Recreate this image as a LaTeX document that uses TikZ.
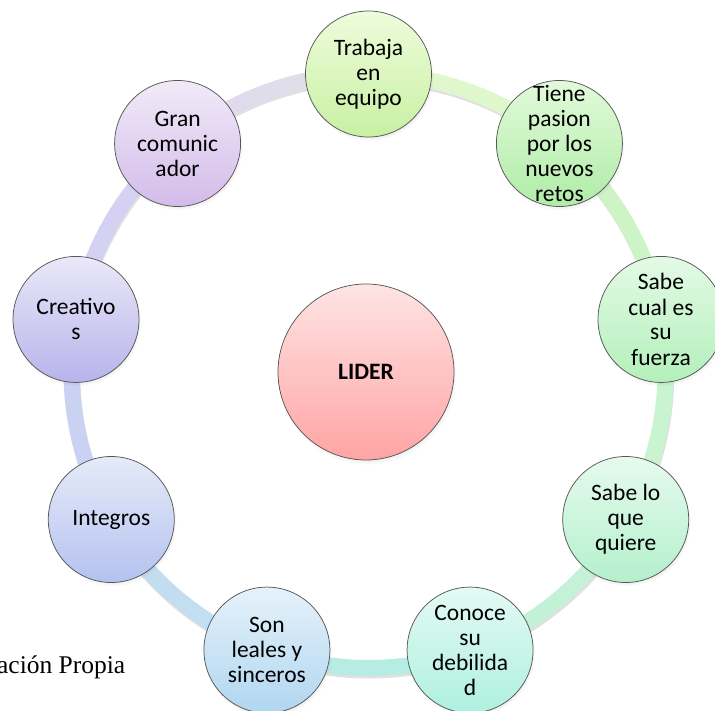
\documentclass[tikz,border=0pt]{standalone}
\usepackage{fontspec}
\setmainfont{Carlito}
\newfontfamily\capfont{Liberation Serif}
\usetikzlibrary{calc,shadows}

% node fills (top / bottom)
\definecolor{aT}{HTML}{EEFCDC}\definecolor{aB}{HTML}{C8F0A2}
\definecolor{bT}{HTML}{E2FADA}\definecolor{bB}{HTML}{B0ECA8}
\definecolor{cT}{HTML}{E4FAE6}\definecolor{cB}{HTML}{B2F0BA}
\definecolor{dT}{HTML}{E6FAEE}\definecolor{dB}{HTML}{B4F0CC}
\definecolor{eT}{HTML}{E4FAF4}\definecolor{eB}{HTML}{AEF0DE}
\definecolor{fT}{HTML}{E6F2FA}\definecolor{fB}{HTML}{B0D6F0}
\definecolor{gT}{HTML}{E6EAF8}\definecolor{gB}{HTML}{B4C2F0}
\definecolor{hT}{HTML}{EAE8F8}\definecolor{hB}{HTML}{B8B4EC}
\definecolor{iT}{HTML}{F2EAF8}\definecolor{iB}{HTML}{D2BCEA}
\definecolor{lT}{HTML}{FFE4E4}\definecolor{lB}{HTML}{FFA4A4}
% ring colours
\definecolor{r1}{HTML}{E4F8CE}
\definecolor{r2}{HTML}{CEF4C4}
\definecolor{r3}{HTML}{CBF4CE}
\definecolor{r4}{HTML}{C7F2D6}
\definecolor{r5}{HTML}{B4EFE0}
\definecolor{r6}{HTML}{C2E0F0}
\definecolor{r7}{HTML}{C8D2F2}
\definecolor{r8}{HTML}{D2D0F2}
\definecolor{r9}{HTML}{DED6F2}

\tikzset{
  outer/.style={circle, minimum size=126pt, inner sep=0pt,
    draw=black!66, line width=0.75pt,
    circular drop shadow={shadow scale=1.02, shadow xshift=1pt, shadow yshift=-2.5pt, opacity=0.3}},
  txt/.style={align=center, inner sep=0pt, font=\fontsize{23.5}{25}\selectfont},
  ringpart/.style={line width=16pt, line cap=butt},
}

\begin{document}
\begin{tikzpicture}[x=1pt,y=1pt]
\useasboundingbox (0,0) rectangle (715,-711);
\coordinate (C) at (368.5,-371);

% ring shadow
\draw[line width=16pt, black, opacity=0.12] ($(C)+(0.8,-2.5)$) circle[radius=297pt];

% ring, each part coloured from the node it leaves (clockwise)
\foreach \a/\ca/\cb in {90/r1/r2, 50/r2/r3, 10/r3/r4, -30/r4/r5, -70/r5/r6,
                        -110/r6/r7, -150/r7/r8, -190/r8/r9, -230/r9/r1}{
  \foreach \k in {0,...,19}{
    \pgfmathsetmacro{\s}{\a-2*\k}
    \pgfmathsetmacro{\e}{\a-2*\k-2.4}
    \pgfmathtruncatemacro{\p}{100-2*\k}
    \colorlet{tmpc}{\ca!\p!\cb}
    \draw[ringpart, tmpc] ($(C)+(\s:297)$) arc[start angle=\s, end angle=\e, radius=297pt];
  }
}

% outer nodes
\node[outer, top color=aT, bottom color=aB] (n1) at ($(C)+(90:297)$) {};
\node[outer, top color=bT, bottom color=bB] (n2) at ($(C)+(50:297)$) {};
\node[outer, top color=cT, bottom color=cB] (n3) at ($(C)+(10:297)$) {};
\node[outer, top color=dT, bottom color=dB] (n4) at ($(C)+(-30:297)$) {};
\node[outer, top color=eT, bottom color=eB] (n5) at ($(C)+(-70:297)$) {};
\node[outer, top color=fT, bottom color=fB] (n6) at ($(C)+(-110:297)$) {};
\node[outer, top color=gT, bottom color=gB] (n7) at ($(C)+(-150:297)$) {};
\node[outer, top color=hT, bottom color=hB] (n8) at ($(C)+(170:297)$) {};
\node[outer, top color=iT, bottom color=iB] (n9) at ($(C)+(130:297)$) {};

\node[txt] (t1) at (n1) {Trabaja\\en\\equipo};
\node[txt] (t2) at (n2) {Tiene\\pasion\\por los\\nuevos\\retos};
\node[txt] (t3) at (n3) {Sabe\\cual es\\su\\fuerza};
\node[txt] (t4) at (n4) {Sabe lo\\que\\quiere};
\node[txt] (t5) at (n5) {Conoce\\su\\debilida\\d};
\node[txt] (t6) at (n6) {Son\\leales y\\sinceros};
\node[txt] (t7) at (n7) {Integros};
\node[txt] (t8) at (n8) {Creativo\\s};
\node[txt] (t9) at (n9) {Gran\\comunic\\ador};

% centre
\node[circle, minimum size=176pt, inner sep=0pt, draw=black!66, line width=0.75pt,
      top color=lT, bottom color=lB,
      circular drop shadow={shadow scale=1.02, shadow xshift=1pt, shadow yshift=-3pt, opacity=0.3},
      font=\bfseries\fontsize{23.5}{25}\selectfont] (lider) at (366,-372) {LIDER};

% caption (cut at the left edge, as in the reference)
\node[anchor=base east, inner sep=0pt, font=\capfont\fontsize{25.5}{30}\selectfont] (cap) at (125.5,-673) {ación Propia};
\end{tikzpicture}
\end{document}
